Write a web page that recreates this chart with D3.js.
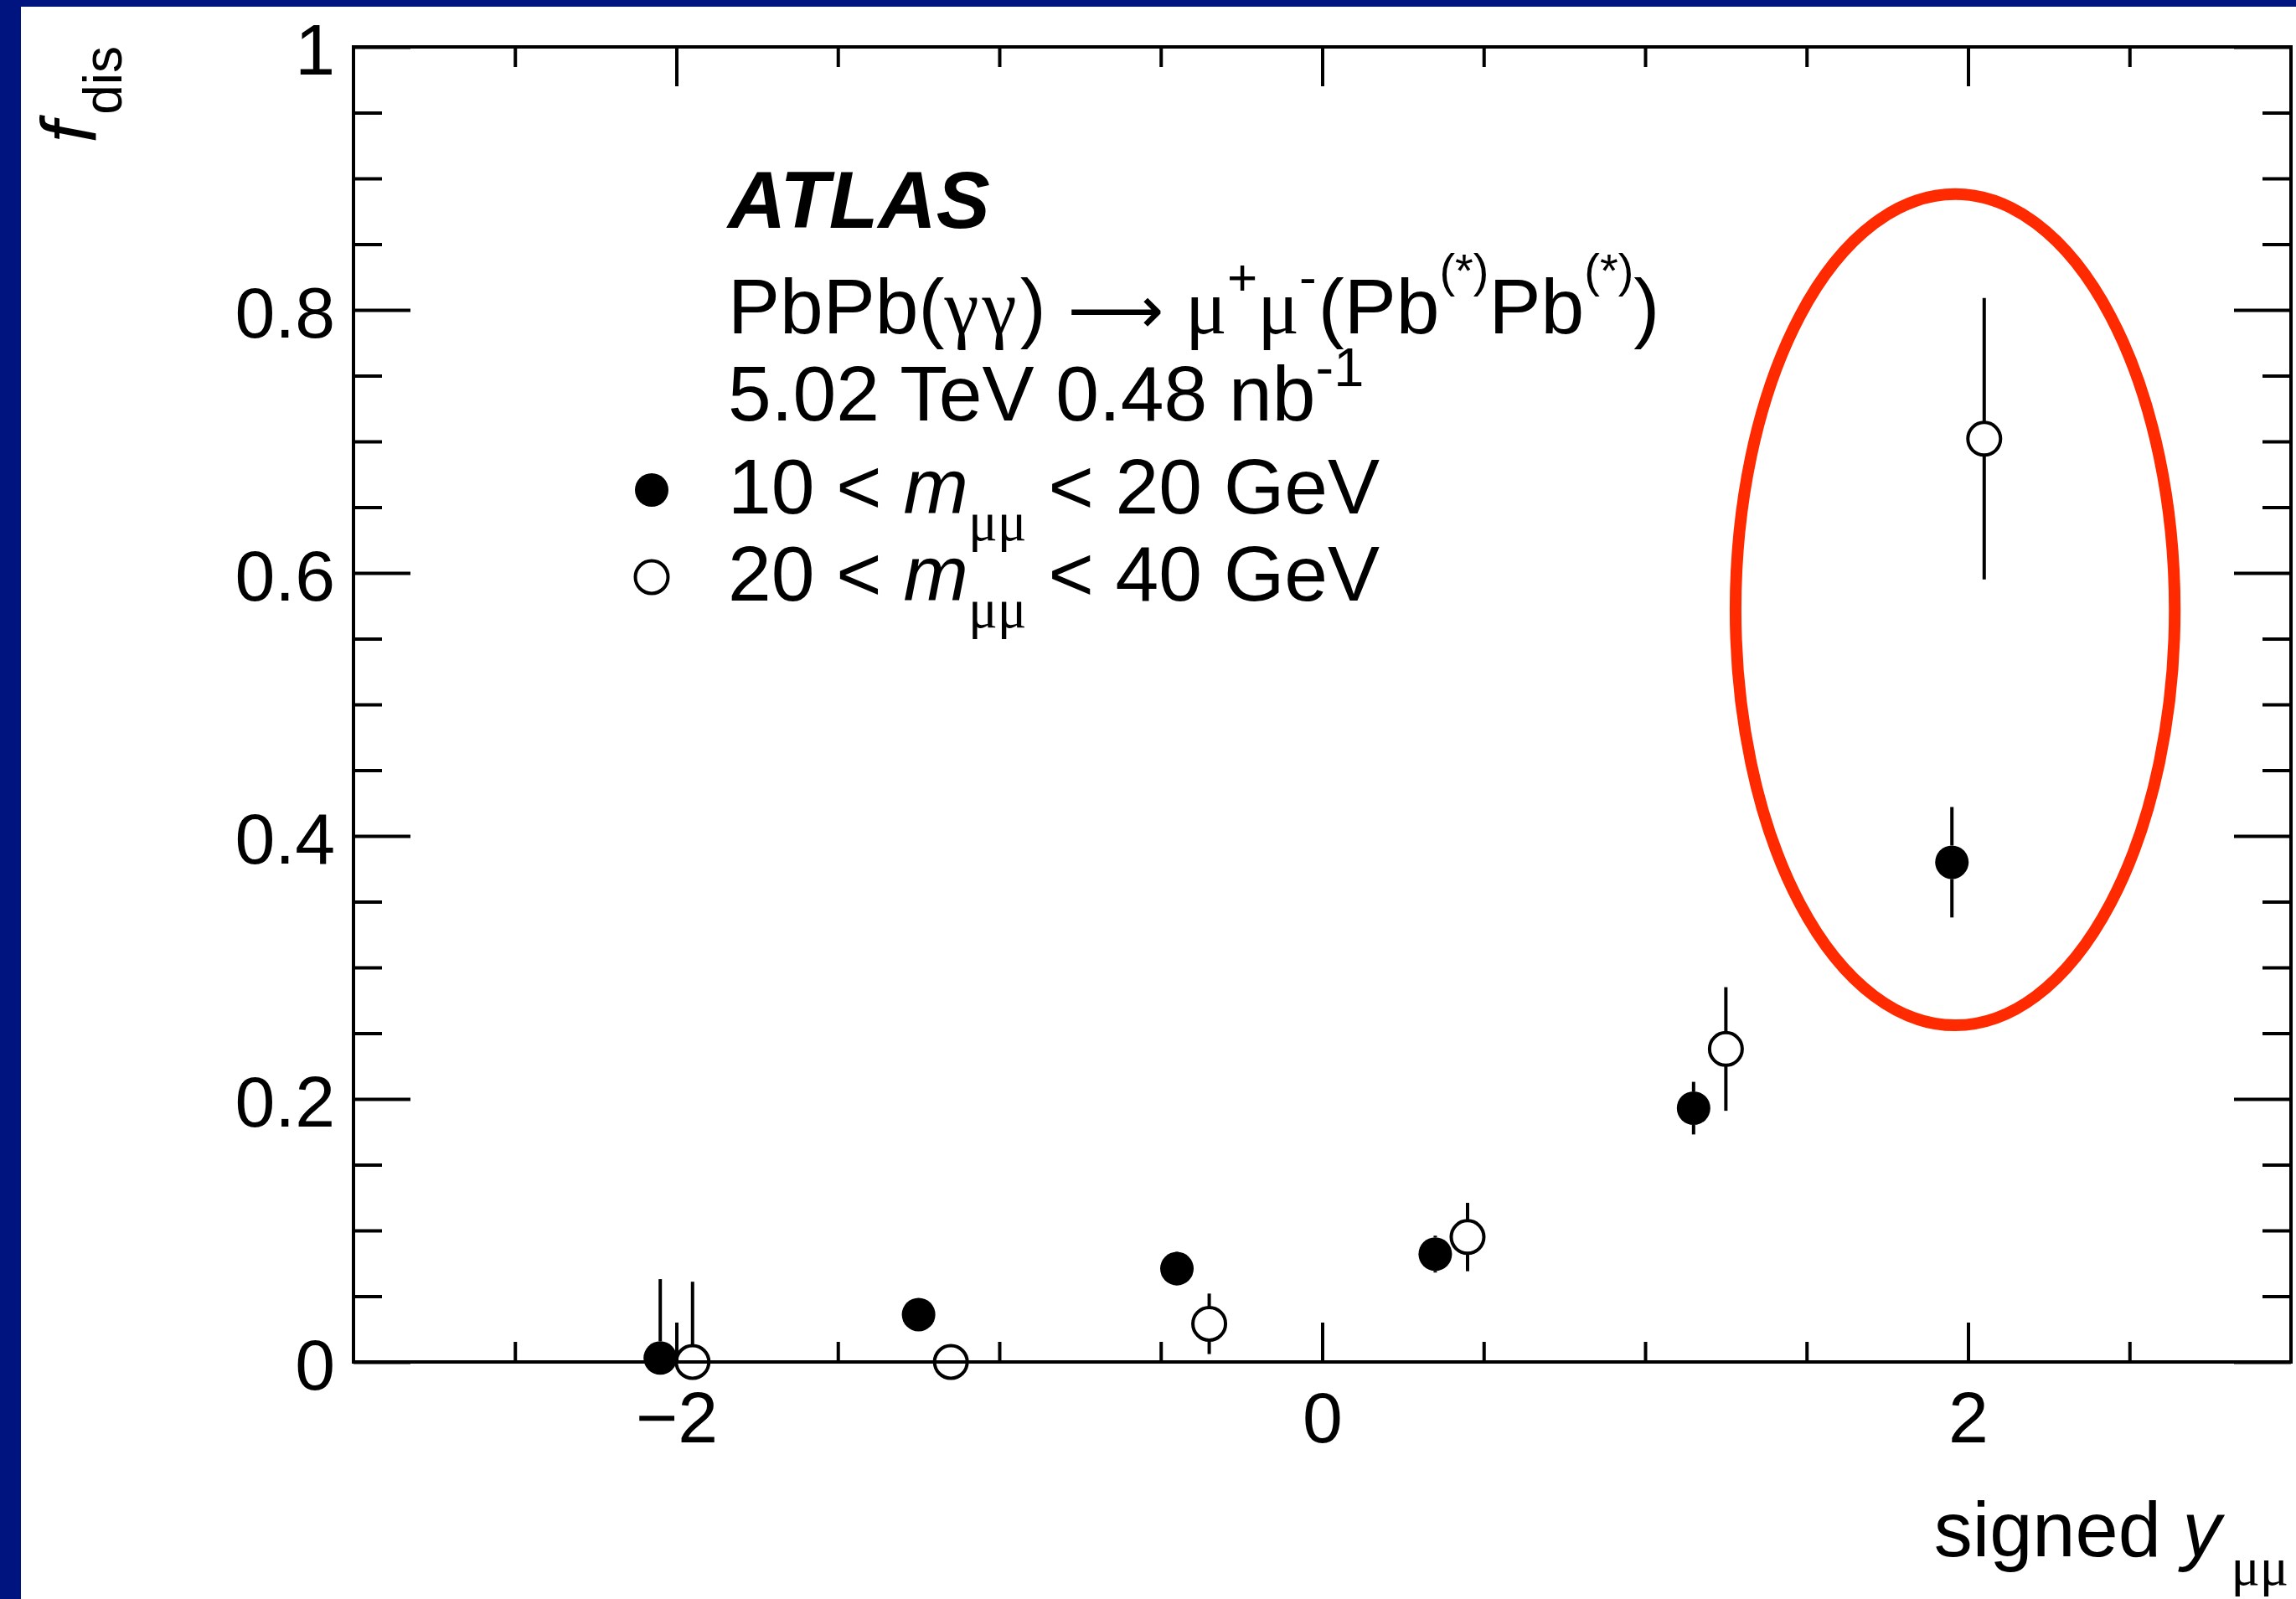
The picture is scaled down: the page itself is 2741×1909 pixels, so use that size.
<!DOCTYPE html>
<html>
<head>
<meta charset="utf-8">
<script src="https://cdn.jsdelivr.net/npm/d3@7"></script>
<style>
  html, body { margin: 0; padding: 0; background: #ffffff; }
  svg { display: block; }
</style>
</head>
<body>
<script>
// Dissociation fraction vs signed dimuon rapidity, two mass ranges
const rapidityLow  = [-2.05, -1.25, -0.45, 0.35, 1.15, 1.95];
const fdisLow      = [0.003, 0.036, 0.071, 0.082, 0.193, 0.380];
const errLow       = [0.060, 0.011, 0.013, 0.014, 0.020, 0.042];

const rapidityHigh = [-1.95, -1.15, -0.35, 0.45, 1.25, 2.05];
const fdisHigh     = [0.000, 0.000, 0.029, 0.095, 0.238, 0.702];
const errHigh      = [0.061, 0.013, 0.023, 0.026, 0.047, 0.107];

const xMajorTicks = [-2, 0, 2];
const xTickLabels = ["\u22122", "0", "2"];
const xMinorTicks = [-2.5, -1.5, -1, -0.5, 0.5, 1, 1.5, 2.5];
const yMajorTicks = [0, 0.2, 0.4, 0.6, 0.8, 1];
const yTickLabels = ["0", "0.2", "0.4", "0.6", "0.8", "1"];

// highlighted forward-rapidity bin (in data units)
const highlightCenter = [1.96, 0.572];
const highlightRadius = [0.68, 0.316];

const W = 2741, H = 1909;
const SANS = "'Liberation Sans', Arial, Helvetica, sans-serif";
const SERIF = "'Liberation Serif', 'Times New Roman', serif";
const frame = { left: 422, right: 2735, top: 56, bottom: 1626 };

const svg = d3.select("body").append("svg")
  .attr("width", W).attr("height", H)
  .attr("viewBox", `0 0 ${W} ${H}`);

svg.append("rect").attr("width", W).attr("height", H).attr("fill", "#ffffff");
// slide border
svg.append("rect").attr("x", 0).attr("y", 0).attr("width", 25).attr("height", H).attr("fill", "#001480");
svg.append("rect").attr("x", 0).attr("y", 0).attr("width", W).attr("height", 8).attr("fill", "#001480");

const x = d3.scaleLinear().domain([-3, 3]).range([frame.left, frame.right]);
const y = d3.scaleLinear().domain([0, 1]).range([frame.bottom, frame.top]);

const yMinorTicks = d3.range(0, 1.0001, 0.05).filter(v => !yMajorTicks.some(m => Math.abs(m - v) < 1e-6));

function styleAxis(g) {
  g.select(".domain").remove();
  g.selectAll(".tick line").attr("stroke", "#000").attr("stroke-width", 4);
  g.selectAll("text").attr("font-family", SANS).attr("font-size", 86).attr("fill", "#000");
}

// bottom axis: major with labels, minor without
svg.append("g").attr("transform", `translate(0,${frame.bottom})`)
  .call(d3.axisBottom(x).tickValues(xMajorTicks).tickSize(-47).tickPadding(35)
    .tickFormat((d, i) => xTickLabels[i]))
  .call(styleAxis)
  .call(g => g.selectAll("text").attr("dy", "0.71em"));
svg.append("g").attr("transform", `translate(0,${frame.bottom})`)
  .call(d3.axisBottom(x).tickValues(xMinorTicks).tickSize(-24).tickFormat(""))
  .call(styleAxis);
// top mirror ticks
svg.append("g").attr("transform", `translate(0,${frame.top})`)
  .call(d3.axisTop(x).tickValues(xMajorTicks).tickSize(-47).tickFormat(""))
  .call(styleAxis);
svg.append("g").attr("transform", `translate(0,${frame.top})`)
  .call(d3.axisTop(x).tickValues(xMinorTicks).tickSize(-24).tickFormat(""))
  .call(styleAxis);

// left axis
svg.append("g").attr("transform", `translate(${frame.left},0)`)
  .call(d3.axisLeft(y).tickValues(yMajorTicks).tickSize(-68).tickPadding(22)
    .tickFormat((d, i) => yTickLabels[i]))
  .call(styleAxis)
  .call(g => g.selectAll("text").attr("dy", "0.38em"));
svg.append("g").attr("transform", `translate(${frame.left},0)`)
  .call(d3.axisLeft(y).tickValues(yMinorTicks).tickSize(-34).tickFormat(""))
  .call(styleAxis);
// right mirror ticks
svg.append("g").attr("transform", `translate(${frame.right},0)`)
  .call(d3.axisRight(y).tickValues(yMajorTicks).tickSize(-68).tickFormat(""))
  .call(styleAxis);
svg.append("g").attr("transform", `translate(${frame.right},0)`)
  .call(d3.axisRight(y).tickValues(yMinorTicks).tickSize(-34).tickFormat(""))
  .call(styleAxis);

// frame
svg.append("rect")
  .attr("x", frame.left).attr("y", frame.top)
  .attr("width", frame.right - frame.left).attr("height", frame.bottom - frame.top)
  .attr("fill", "none").attr("stroke", "#000").attr("stroke-width", 4);

// axis titles
const yTitle = svg.append("text")
  .attr("transform", `translate(114,55) rotate(-90)`)
  .attr("text-anchor", "end")
  .attr("font-family", SANS).attr("fill", "#000");
yTitle.append("tspan").attr("font-size", 92).attr("font-style", "italic").text("f");
yTitle.append("tspan").attr("font-size", 64).attr("dy", 31).attr("dx", 8).text("dis");

const xTitle = svg.append("text")
  .attr("x", 2732).attr("y", 1858)
  .attr("text-anchor", "end")
  .attr("font-family", SANS).attr("font-size", 92).attr("fill", "#000");
xTitle.append("tspan").text("signed ");
xTitle.append("tspan").attr("font-style", "italic").text("y");
xTitle.append("tspan").attr("font-family", SERIF).attr("font-size", 64).attr("dx", 12).attr("dy", 34).text("\u03bc\u03bc");

// highlight ellipse
svg.append("ellipse")
  .attr("cx", x(highlightCenter[0]))
  .attr("cy", y(highlightCenter[1]))
  .attr("rx", x(highlightCenter[0] + highlightRadius[0]) - x(highlightCenter[0]))
  .attr("ry", y(highlightCenter[1] - highlightRadius[1]) - y(highlightCenter[1]))
  .attr("fill", "none").attr("stroke", "#ff2a00").attr("stroke-width", 14);

// data
const R = 20;
svg.append("clipPath").attr("id", "frameClip").append("rect")
  .attr("x", frame.left).attr("y", frame.top)
  .attr("width", frame.right - frame.left).attr("height", frame.bottom - frame.top);

function series(xs, vs, es, filled) {
  const pts = xs.map((xv, i) => ({ x: xv, v: vs[i], e: es[i] }));
  const bars = svg.append("g").attr("clip-path", "url(#frameClip)")
    .attr("stroke", "#000").attr("stroke-width", 4);
  pts.forEach(p => {
    const px = x(p.x), py = y(p.v), top = y(p.v + p.e), bot = y(p.v - p.e);
    if (top < py - R) bars.append("line").attr("x1", px).attr("x2", px).attr("y1", top).attr("y2", py - R);
    if (bot > py + R) bars.append("line").attr("x1", px).attr("x2", px).attr("y1", py + R).attr("y2", bot);
  });
  svg.append("g").selectAll("circle").data(pts).join("circle")
    .attr("cx", d => x(d.x)).attr("cy", d => y(d.v))
    .attr("r", filled ? R : R - 0.5)
    .attr("fill", filled ? "#000" : "none")
    .attr("stroke", filled ? "none" : "#000")
    .attr("stroke-width", 4);
}
series(rapidityLow, fdisLow, errLow, true);
series(rapidityHigh, fdisHigh, errHigh, false);

// legend block
const LX = 869, FS = 93, SUB = 65;
svg.append("text").attr("x", LX).attr("y", 272)
  .attr("font-family", SANS).attr("font-size", 96).attr("font-weight", "bold").attr("font-style", "italic")
  .text("ATLAS");

const l2 = svg.append("text").attr("x", LX).attr("y", 398)
  .attr("font-family", SANS).attr("font-size", FS);
l2.append("tspan").text("PbPb(");
l2.append("tspan").attr("font-family", SERIF).attr("letter-spacing", 4).text("\u03b3\u03b3");
l2.append("tspan").text(") ");
l2.append("tspan").attr("font-family", "'DejaVu Sans', sans-serif").attr("font-size", 80).text("\u27f6");
l2.append("tspan").text(" ");
l2.append("tspan").attr("font-family", SERIF).text("\u03bc");
l2.append("tspan").attr("font-size", 62).attr("dy", -46).text("+");
l2.append("tspan").attr("font-family", SERIF).attr("dy", 46).text("\u03bc");
l2.append("tspan").attr("font-size", 62).attr("dy", -46).text("-");
l2.append("tspan").attr("dy", 46).attr("dx", 2).text("(Pb");
l2.append("tspan").attr("font-size", 56).attr("dy", -56).text("(*)");
l2.append("tspan").attr("dy", 56).text("Pb");
l2.append("tspan").attr("font-size", 56).attr("dy", -56).text("(*)");
l2.append("tspan").attr("dy", 56).text(")");

const l3 = svg.append("text").attr("x", LX).attr("y", 502)
  .attr("font-family", SANS).attr("font-size", FS);
l3.append("tspan").text("5.02 TeV 0.48 nb");
l3.append("tspan").attr("font-size", SUB).attr("dy", -41).text("-1");

const massRanges = ["10", "20", "20", "40"];
[[massRanges[0], massRanges[1], 613, true], [massRanges[2], massRanges[3], 717, false]].forEach(([lo, hi, by, filled]) => {
  const t = svg.append("text").attr("x", LX).attr("y", by)
    .attr("font-family", SANS).attr("font-size", FS);
  t.append("tspan").text(lo + " < ");
  t.append("tspan").attr("font-style", "italic").text("m");
  t.append("tspan").attr("font-family", SERIF).attr("font-size", SUB).attr("dy", 32).text("\u03bc\u03bc");
  t.append("tspan").attr("dy", -32).text(" < " + hi + " GeV");
  svg.append("circle").attr("cx", 778).attr("cy", by - 28).attr("r", filled ? R : R - 0.5)
    .attr("fill", filled ? "#000" : "none").attr("stroke", filled ? "none" : "#000").attr("stroke-width", 4);
});
</script>
</body>
</html>
